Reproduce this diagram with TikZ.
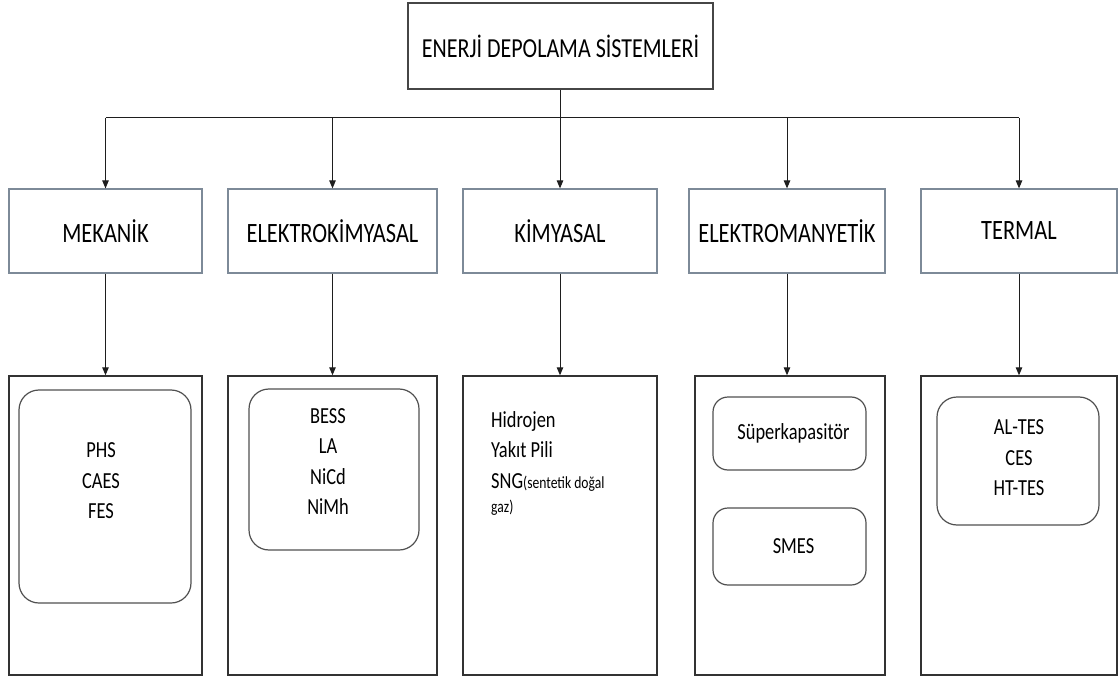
\documentclass[tikz,border=0pt]{standalone}
\usepackage{fontspec}
\setmainfont[FakeStretch=0.8]{Carlito}
\usetikzlibrary{arrows.meta}

\definecolor{titlegray}{RGB}{70,70,70}
\definecolor{catgray}{RGB}{125,138,152}
\definecolor{boxgray}{RGB}{50,50,50}
\definecolor{roundgray}{RGB}{80,80,80}
\definecolor{linkgray}{RGB}{30,30,30}

\begin{document}
\begin{tikzpicture}[x=1pt,y=-1pt,
  titlebox/.style={draw=titlegray, line width=1.3pt, minimum width=305pt, minimum height=86pt,
                   inner sep=0pt, font=\fontsize{27.5}{32}\selectfont},
  catbox/.style={draw=catgray, line width=1.2pt, minimum height=84pt, inner sep=0pt,
                 font=\fontsize{28}{33}\selectfont},
  listbox/.style={draw=boxgray, line width=1.4pt, minimum height=299pt, inner sep=0pt},
  groupbox/.style={draw=roundgray, line width=1.2pt, rounded corners=20pt, inner sep=0pt,
                   font=\fontsize{23}{30.5}\selectfont},
  itemtext/.style={font=\fontsize{23}{30.5}\selectfont, align=center, inner sep=0pt},
  linetext/.style={font=\fontsize{23}{30.5}\selectfont, inner sep=0pt, anchor=base west},
  link/.style={draw=linkgray, line width=1pt},
  arrow/.style={link, -{Triangle[length=8pt,width=6.5pt]}}]

\useasboundingbox (0,0) rectangle (1119,679);
\fill[white] (0,0) rectangle (1119,679);

% root
\node[titlebox] (top) at (560.5,46) {ENERJİ DEPOLAMA SİSTEMLERİ};

% categories
\node[catbox, minimum width=193pt] (mek)  at (105.5,231) {MEKANİK};
\node[catbox, minimum width=209pt] (ekim) at (332.5,231) {ELEKTROKİMYASAL};
\node[catbox, minimum width=194pt] (kim)  at (560,231)   {KİMYASAL};
\node[catbox, minimum width=196pt] (emag) at (787,231)   {ELEKTROMANYETİK};
\node[catbox, minimum width=196pt] (term) at (1019,231)  {TERMAL};

% technology panels
\node[listbox, minimum width=193pt] (mekL)  at (105.5,525.5) {};
\node[listbox, minimum width=209pt] (ekimL) at (332.5,525.5) {};
\node[listbox, minimum width=194pt] (kimL)  at (560,525.5)   {};
\node[listbox, minimum width=190pt] (emagL) at (790,525.5)   {};
\node[listbox, minimum width=196pt] (termL) at (1019,525.5)  {};

% mechanical
\node[groupbox, minimum width=172pt, minimum height=213pt] (mekG) at (105,496.5) {};
\node[itemtext] (mekT) at (101,481) {PHS\\CAES\\FES};

% electrochemical
\node[groupbox, minimum width=170pt, minimum height=161pt] (ekimG) at (334,469.5) {};
\node[itemtext] (ekimT) at (328,461.5) {BESS\\LA\\NiCd\\NiMh};

% chemical
\node[linetext] (kimT1) at (491,427)   {Hidrojen};
\node[linetext] (kimT2) at (491,457.5) {Yakıt Pili};
\node[linetext] (kimT3) at (491,488)   {SNG{\fontsize{17}{20}\selectfont(sentetik doğal}};
\node[linetext, font=\fontsize{17}{20}\selectfont] (kimT4) at (491,512) {gaz)};

% electromagnetic
\node[groupbox, rounded corners=15pt, minimum width=153pt, minimum height=73pt] (emagG1) at (789.5,433.5) {\hspace*{8pt}Süperkapasitör};
\node[groupbox, rounded corners=15pt, minimum width=153pt, minimum height=77pt] (emagG2) at (789.5,546.5) {\hspace*{8pt}SMES};

% thermal
\node[groupbox, minimum width=162pt, minimum height=128pt] (termG) at (1018,461) {};
\node[itemtext] (termT) at (1019,458) {AL-TES\\CES\\HT-TES};

% connectors
\coordinate (bus) at (560,118);
\draw[link] (top.south) -- (top.south |- bus);
\draw[link] (mek.north |- bus) -- (term.north |- bus);
\foreach \c in {mek,ekim,kim,emag,term}
  \draw[arrow] (\c.north |- bus) -- (\c.north);
\foreach \c/\p in {mek/mekL,ekim/ekimL,kim/kimL,emag/emagL,term/termL}
  \draw[arrow] (\c.south) -- (\c.south |- \p.north);
\end{tikzpicture}
\end{document}
